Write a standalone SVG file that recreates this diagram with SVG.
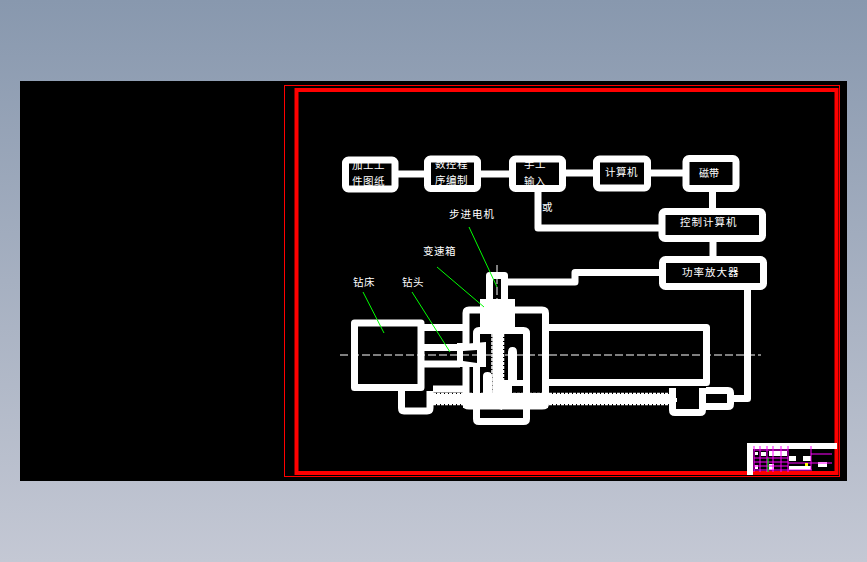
<svg xmlns="http://www.w3.org/2000/svg" width="867" height="562" viewBox="0 0 867 562">
<defs>
<linearGradient id="bg" x1="0" y1="0" x2="0" y2="1"><stop offset="0" stop-color="#8898ae"/><stop offset="1" stop-color="#c4c8d4"/></linearGradient>
<style>
.w{fill:none;stroke:#fff;stroke-width:7;stroke-linejoin:round}
.f{fill:#fff;stroke:none}
.g{stroke:#0f0;stroke-width:1;fill:none}
.m{stroke:#f0f;stroke-width:1;fill:none}
.d{stroke:#fff;stroke-width:1;fill:none;stroke-dasharray:8 3}
.r{stroke:#fff;stroke-width:1.5;fill:none;stroke-dasharray:3 1}
text{font-family:"Noto Sans CJK SC","Liberation Sans",sans-serif;font-size:10.5px;fill:#fff;letter-spacing:.5px}
</style>
</defs>
<rect width="867" height="562" fill="url(#bg)"/>
<rect x="20" y="81" width="827" height="400" fill="#000"/>
<rect x="284.500" y="85.500" width="555" height="391" fill="none" stroke="#f00"/>
<rect x="296.500" y="90" width="540" height="383" fill="none" stroke="#f00" stroke-width="4"/>
<g id="connectors">
<path class="w" d="M398 174H424M481 174H509M566 173H593M651 173H683M712.500 192V208M713 242V256M538 192V228H659M659 272.500H575V282H508M747.500 290V398.500H733"/>
</g>
<g id="n1"><rect class="w" x="345.500" y="160" width="49.500" height="29" rx="3"/><text x="352" y="169">加工工</text><text x="352" y="185">件图纸</text></g>
<g id="n2"><rect class="w" x="427.500" y="159" width="50" height="29.500" rx="3"/><text x="435" y="168">数控程</text><text x="435" y="184">序编制</text></g>
<g id="n3"><rect class="w" x="512.500" y="159" width="50" height="29.500" rx="3"/><text x="524" y="168">手工</text><text x="524" y="185">输入</text></g>
<g id="n4"><rect class="w" x="596.500" y="159" width="51" height="29" rx="3"/><text x="605" y="176">计算机</text></g>
<g id="n5"><rect class="w" x="686" y="158.500" width="50" height="30" rx="3"/><text x="699" y="177" style="letter-spacing:0;font-size:10px">磁带</text></g>
<g id="n6"><rect class="w" x="662" y="211.500" width="100.500" height="27" rx="3"/><text x="680" y="226" style="letter-spacing:1px">控制计算机</text></g>
<g id="n7"><rect class="w" x="662.500" y="259.500" width="101" height="27" rx="3"/><text x="682" y="276" style="letter-spacing:1px">功率放大器</text></g>
<text x="542" y="211">或</text>
<text x="449" y="218" style="letter-spacing:1px">步进电机</text>
<text x="423" y="255">变速箱</text>
<text x="353" y="286">钻床</text>
<text x="402" y="286">钻头</text>
<g id="machine">
<rect class="w" x="354.500" y="323" width="66.500" height="64.500"/>
<path class="w" d="M424 327.500H466M424 347.500H460M424 364H460M433 389H466"/>
<path class="w" d="M466 404V313Q466 310 469 310H542Q545.500 310 545.500 313V404Q545.500 406 542 406H469Q466 406 466 404Z"/>
<path class="w" d="M476.500 400V333.500Q476.500 330.500 479 330.500H523.500Q526.500 330.500 526.500 333.500V400M476.500 404V419Q476.500 421.500 479 421.500H523.500Q526.500 421.500 526.500 419V404"/>
<path class="f" d="M457 343H463V367H457ZM463 344L486 342V367H463Z"/>
<path d="M463 351L477 350V363L463 361Z" fill="#000"/>
<path class="w" d="M548 327.500H706.500V382.500H548M401.500 391V408Q401.500 411 404 411H427Q430 411 430 408V391M672.500 388V410Q672.500 412.500 675 412.500H700Q702.500 412.500 702.500 410V388M706 390.500H728Q730.500 390.500 730.500 393V404Q730.500 406.500 728 406.500H706"/>
<path class="w" d="M489.500 299V275.500H504.500V299"/>
<rect class="f" x="480" y="299" width="35" height="35"/>
<rect class="f" x="492.500" y="334" width="10.500" height="60"/>
<path class="r" d="M492 334V393M503.500 334V393"/>
<rect class="f" x="433" y="394" width="240" height="10"/>
<path class="r" d="M433 393.500H672M433 404.500H672"/>
<path class="f" d="M672 398H677V402H672Z"/>
<rect class="f" x="463" y="393" width="85" height="15"/>
<path class="f" d="M483 376Q483 372 487.500 372Q492 372 492 376V394H483ZM508 352Q508 347 512.500 347Q517 347 517 352V380H523V386H512V394H523V397H503V380H508ZM488 405H503L502 410Z"/>
</g>
<g id="leaders">
<path class="g" d="M363 292L384 333M412 292L450 352M437 267L484 307M469 227L497 287"/>
</g>
<path class="d" d="M340 355H761"/>
<path class="d" d="M497 265V299"/>
<g id="title-block">
<path class="f" d="M747 443H837V449H753V475H747Z"/>
<path class="f" d="M755 452H758V455H755ZM761 452H766V456H761ZM769 451H787V456H769ZM755 465H758V469H755ZM769 464H774V470H769ZM789 456H796V461H789ZM803 456H811V461H803ZM789 466H811V470H789ZM818 462H827V467H818Z"/>
<path class="m" d="M754 450H788M754 458H788M754 462H788M754 466H788M788 463H832M754 470H812M811 454H832M754 446V472M760 446V472M767 446V472M773 446V472M781 446V472M788 446V472M811 446V470"/>
<path class="g" d="M768 458V472"/>
<rect x="805" y="463" width="3" height="3" fill="#ff0"/>
</g>
</svg>
